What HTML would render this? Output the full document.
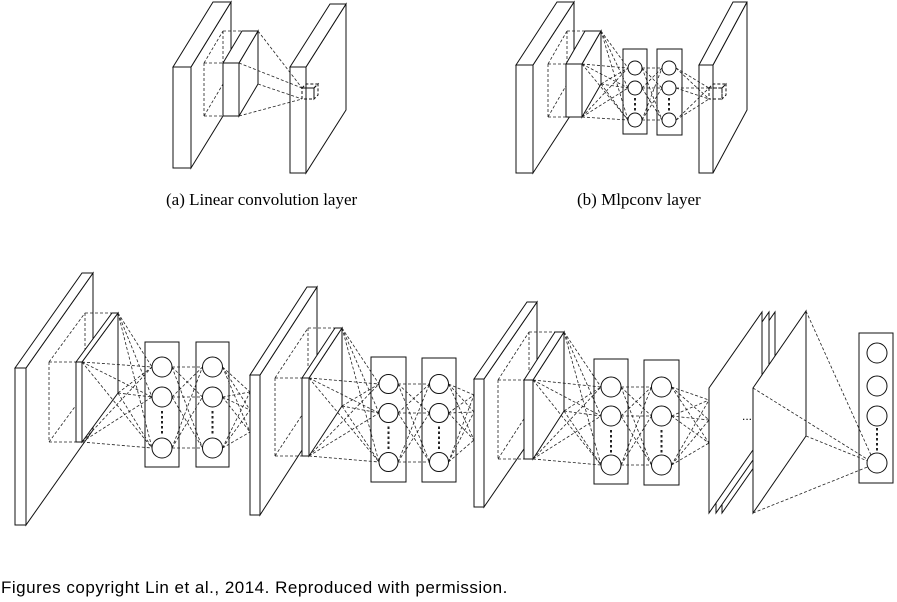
<!DOCTYPE html>
<html><head><meta charset="utf-8"><style>
body{margin:0;background:#fff;width:897px;height:602px;overflow:hidden;position:relative}
svg{position:absolute;left:0;top:0}
.cap{position:absolute;font-family:"Liberation Serif",serif;font-size:17px;color:#000;white-space:nowrap}
.foot{position:absolute;left:1px;top:578px;font-family:"Liberation Sans",sans-serif;font-size:17px;letter-spacing:0.5px;color:#000;white-space:nowrap}
</style></head><body>
<svg id="s" width="897" height="602" xmlns="http://www.w3.org/2000/svg"></svg>
<div class="cap" style="left:166px;top:190px">(a) Linear convolution layer</div>
<div class="cap" style="left:577px;top:190px">(b) Mlpconv layer</div>
<div class="foot">Figures copyright Lin et al., 2014. Reproduced with permission.</div>
<script>
const S=document.getElementById('s');let out='';
function L(x1,y1,x2,y2,d,w){out+=`<line x1="${x1}" y1="${y1}" x2="${x2}" y2="${y2}" stroke="#222" stroke-width="${w||0.8}" ${d?'stroke-dasharray="3,2"':''}/>`;}
function P(pts,d){out+=`<polygon points="${pts.map(p=>p.join(',')).join(' ')}" fill="#fff" stroke="#111" stroke-width="1" ${d?'stroke-dasharray="3,2" fill-opacity="0"':''}/>`;}
function R(x1,y1,x2,y2,w){out+=`<rect x="${x1}" y="${y1}" width="${x2-x1}" height="${y2-y1}" fill="#fff" stroke="#111" stroke-width="${w||1}"/>`;}
function C(x,y,r){out+=`<circle cx="${x}" cy="${y}" r="${r}" fill="#fff" stroke="#111" stroke-width="1"/>`;}
function slab(fx1,fx2,fy1,fy2,bx1,by1){const dx=bx1-fx1,dy=by1-fy1,bx2=fx2+dx;
 P([[fx2,fy1],[bx2,by1],[bx2,fy2+dy],[fx2,fy2]]);P([[fx1,fy1],[bx1,by1],[bx2,by1],[fx2,fy1]]);R(fx1,fy1,fx2,fy2);
 return {bx2,dx,dy};}
function field(lx,fx1,fy1,fy2,dx,dy){L(lx,fy1,fx1,fy1,1);L(lx,fy2,fx1,fy2,1);L(lx,fy1,lx,fy2,1);
 L(lx+dx,fy1+dy,fx1+dx,fy1+dy,1);L(lx,fy1,lx+dx,fy1+dy,1);L(lx+dx,fy1+dy,lx+dx,fy2+dy,1);L(lx,fy2,lx+dx,fy2+dy,1);}
function dots(x,y1,y2){for(let y=y1;y<=y2;y+=5)out+=`<rect x="${x-1}" y="${y}" width="2" height="2.5" fill="#222"/>`;}
function block(b){
 const big=slab(...b.big);
 const [fx1,fx2,fy1,fy2,bx1,by1]=b.inner;const dx=bx1-fx1,dy=by1-fy1;
 field(b.lx,fx1,fy1,fy2,dx,dy);
 const inn=slab(...b.inner);
 const pts=[[inn.bx2,by1],[fx2,fy1],[fx2,fy2],[inn.bx2,fy2+dy]];
 R(...b.b1);R(...b.b2);
 const c1=b.b1[0]+(b.b1[2]-b.b1[0])/2,c2=b.b2[0]+(b.b2[2]-b.b2[0])/2;
 pts.forEach(p=>b.cy.forEach(y=>L(p[0],p[1],c1-b.r,y,1)));
 b.cy.forEach(y=>b.cy.forEach(z=>L(c1+b.r,y,c2-b.r,z,1)));
 b.cy.forEach(y=>b.next.forEach(n=>L(c2+b.r,y,n[0],n[1],1)));
 b.cy.forEach(y=>{C(c1,y,b.r);C(c2,y,b.r);});
 const dy1=b.cy[1]+b.r+4,dy2=b.cy[2]-b.r-5;dots(c1,dy1,dy2);dots(c2,dy1,dy2);
}
// (a)
slab(173,191,67,168,213,2);
field(204,223,63,116,19,-32);
const ia=slab(223,239,63,116,242,31);
slab(290,306,67,173,330,4);
[[258,31],[239,63],[239,116],[258,84]].forEach((p,i)=>L(p[0],p[1],302,i<2?88:99,1));
P([[302,88],[314,88],[314,99],[302,99]],1);P([[302,88],[306,84],[318,84],[314,88]],1);P([[314,88],[318,84],[318,95],[314,99]],1);
// (b)
slab(516,533,65,173,557,2);
field(548,566,64,117,19,-33);
slab(566,582,64,117,585,31);
R(623,49,647,134);R(657,49,682,135);
const ptsb=[[601,31],[582,64],[582,117],[601,84]],cyb=[68,88,120];
ptsb.forEach(p=>cyb.forEach(y=>L(p[0],p[1],628,y,1)));
cyb.forEach(y=>cyb.forEach(z=>L(642,y,662,z,1)));
slab(699,713,65,173,733,2);
cyb.forEach(y=>{L(676,y,709,88,1);L(676,y,709,99,1);});
cyb.forEach(y=>{C(635,y,7);C(669,y,7);});dots(635,98,110);dots(669,98,110);
P([[709,88],[722,88],[722,99],[709,99]],1);P([[709,88],[713,84],[726,84],[722,88]],1);P([[722,88],[726,84],[726,95],[722,99]],1);
// bottom blocks
block({big:[15,26,368,525,82,273],inner:[76,82,362,442,112,313],lx:49,b1:[145,342,179,467],b2:[196,342,229,467],cy:[367,397,448],r:10,next:[[250,392],[250,410],[250,432]]});
block({big:[250,260,375,515,307,287],inner:[302,309,378,456,335,328],lx:275,b1:[371,357,406,482],b2:[422,358,456,482],cy:[384,413,462],r:9.5,next:[[474,395],[474,412],[474,440]]});
block({big:[474,484,379,507,527,302],inner:[524,533,380,459,555,332],lx:498,b1:[594,359,628,484],b2:[644,360,679,485],cy:[387,416,465],r:10,next:[[709,400],[709,420],[709,443]]});
// final
[722,716,709].forEach(x=>P([[x,388],[x+53,312],[x+53,437],[x,513]]));
P([[753,388],[806,311],[806,436],[753,513]]);
out+=`<text x="742" y="420" font-size="12" font-family="Liberation Sans,sans-serif">...</text>`;
R(859,333,893,483);
[[806,311],[753,388],[806,436],[753,513]].forEach(p=>L(p[0],p[1],875,464,1));
[353,386,416,463].forEach(y=>C(877,y,10));dots(877,428,450);
S.innerHTML=out;
</script>
</body></html>
